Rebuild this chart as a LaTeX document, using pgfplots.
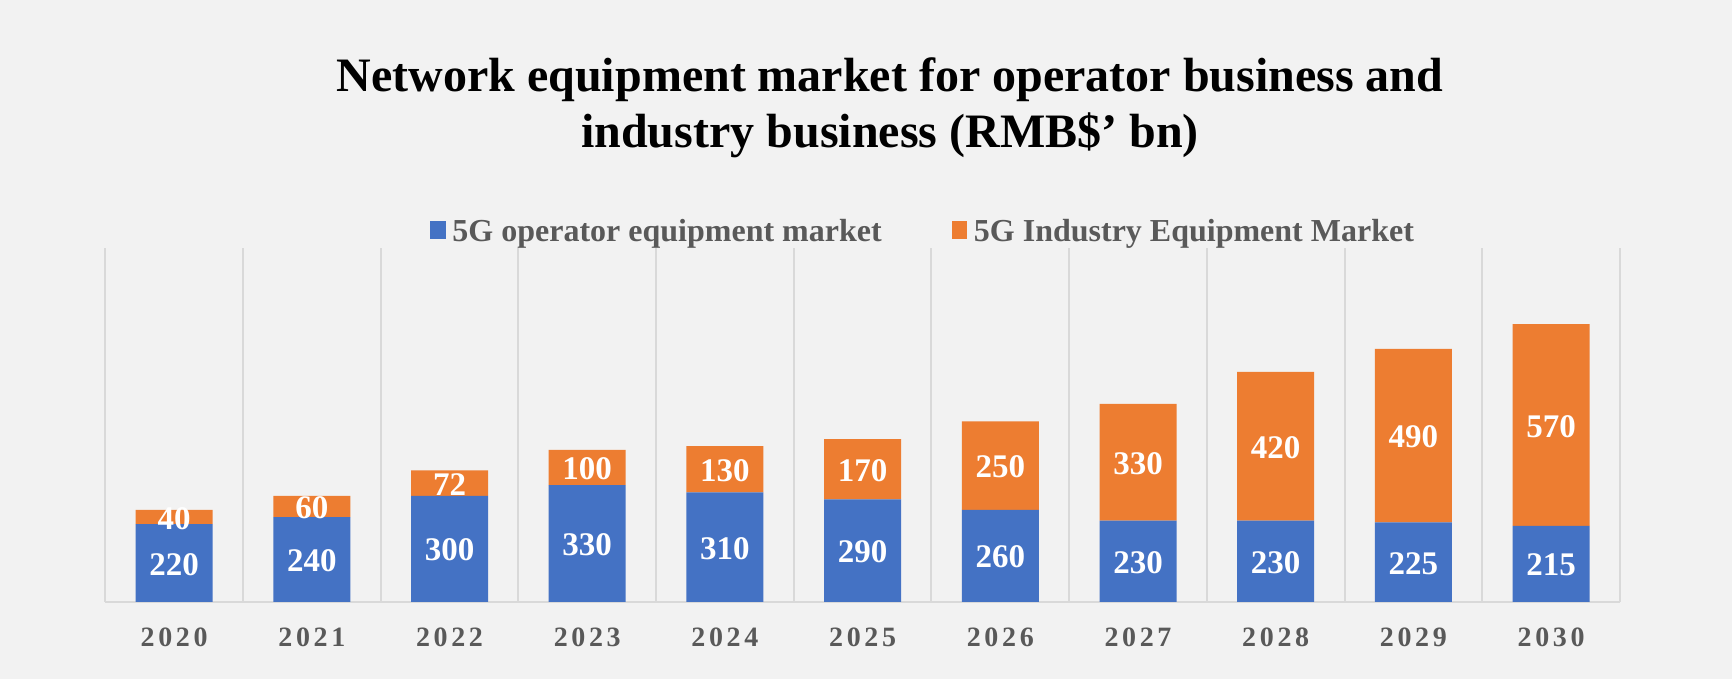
\documentclass[border=0pt]{standalone}
\usepackage{fontspec}
\setmainfont{Liberation Serif}
\newfontfamily\tickfont[LetterSpace=13]{Liberation Serif}
\usepackage{pgfplots}
\pgfplotsset{compat=1.18}
\usepackage{pgfplotstable}

\definecolor{opblue}{HTML}{4472C4}
\definecolor{indorange}{HTML}{ED7D31}
\definecolor{bggray}{HTML}{F2F2F2}
\definecolor{gridgray}{HTML}{D9D9D9}
\definecolor{txtgray}{HTML}{595959}

% operator / industry equipment market, RMB bn
\pgfplotstableread{
x  year op  ind
0  2020 220 40
1  2021 240 60
2  2022 300 72
3  2023 330 100
4  2024 310 130
5  2025 290 170
6  2026 260 250
7  2027 230 330
8  2028 230 420
9  2029 225 490
10 2030 215 570
}\market

\begin{document}
\begin{tikzpicture}
\fill[bggray] (0pt,0pt) rectangle (866pt,339.5pt);
\node[anchor=base, inner sep=0pt, font=\fontsize{24}{28}\selectfont\bfseries]
  at (445pt,293.6pt) {Network equipment market for operator business and};
\node[anchor=base, inner sep=0pt, font=\fontsize{24}{28}\selectfont\bfseries]
  at (445pt,265.8pt) {industry business (RMB\$’ bn)};

\begin{axis}[
    at={(52.65pt,38.5pt)}, anchor=south west,
    scale only axis, width=757.3pt, height=177pt,
    ybar stacked, bar width=38.5pt,
    xmin=-0.5, xmax=10.5, ymin=0, ymax=1000,
    axis y line=none, axis x line*=bottom,
    x axis line style={draw=gridgray, line width=1pt, -},
    xtick={0,...,10},
    xticklabels={2020,2021,2022,2023,2024,2025,2026,2027,2028,2029,2030},
    major tick length=0pt,
    minor xtick={-0.5,0.5,...,10.5}, minor tick length=0pt,
    xminorgrids, minor grid style={draw=gridgray, line width=1pt},
    xticklabel style={font=\tickfont\fontsize{14}{14}\selectfont\bfseries,
        text=txtgray, anchor=center, yshift=-17.75pt},
    clip=false,
    point meta=explicit symbolic,
    nodes near coords,
    nodes near coords align={center},
    every node near coord/.append style={font=\fontsize{16.5}{16.5}\selectfont\bfseries,
        text=white, anchor=center, yshift=-0.6pt},
    legend columns=2,
    legend style={at={(0.2143,1.0446)}, anchor=west, draw=none, fill=none,
        inner sep=0pt,
        font=\color{txtgray}\fontsize{16}{16}\selectfont\bfseries,
        /tikz/every even column/.append style={column sep=33pt}},
    legend image code/.code={\fill[#1] (0pt,-3.2pt) rectangle (7.8pt,5.6pt);
        \path (9.1pt,0pt);},
]
\addplot[fill=opblue, draw=none] table[x=x, y=op, meta=op] {\market};
\addplot[fill=indorange, draw=none] table[x=x, y=ind, meta=ind] {\market};
\legend{5G operator equipment market, 5G Industry Equipment Market}
\end{axis}
\pgfresetboundingbox
\useasboundingbox (0pt,0pt) rectangle (866pt,339.5pt);
\end{tikzpicture}
\end{document}
